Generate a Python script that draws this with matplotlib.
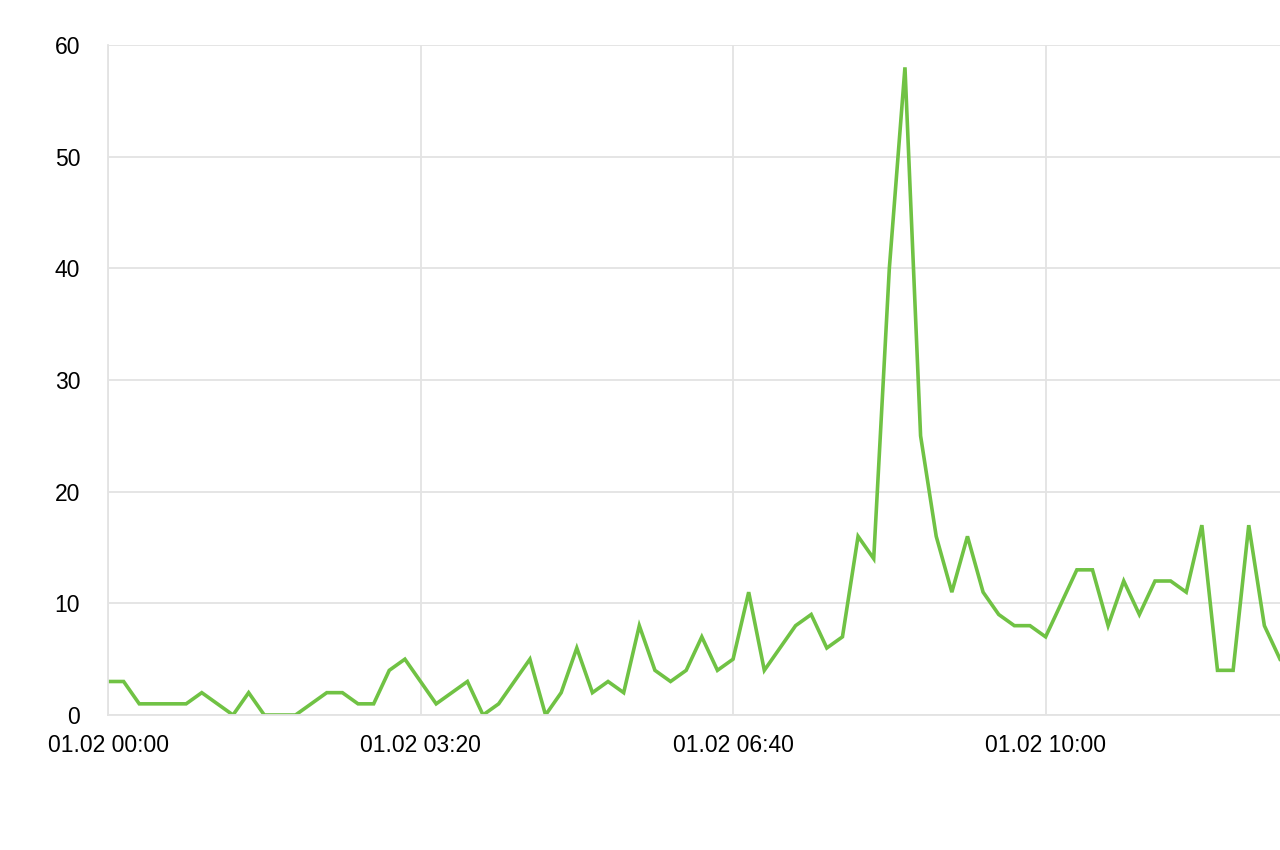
import matplotlib
matplotlib.use("Agg")
import matplotlib.pyplot as plt
import matplotlib.dates as mdates
import pandas as pd

# readings every 10 minutes starting 01.02 00:00
start_time = "2024-02-01 00:00"
step = "10min"
values = [
    3, 3, 1, 1, 1, 1, 2, 1, 0, 2,
    0, 0, 0, 1, 2, 2, 1, 1, 4, 5,
    3, 1, 2, 3, 0, 1, 3, 5, 0, 2,
    6, 2, 3, 2, 8, 4, 3, 4, 7, 4,
    5, 11, 4, 6, 8, 9, 6, 7, 16, 14,
    40, 58, 25, 16, 11, 16, 11, 9, 8, 8,
    7, 10, 13, 13, 8, 12, 9, 12, 12, 11,
    17, 4, 4, 17, 8, 5,
]
x_tick_minutes = [0, 200, 400, 600]
y_ticks = [0, 10, 20, 30, 40, 50, 60]

times = pd.date_range(start_time, periods=len(values), freq=step)
t0 = pd.Timestamp(start_time)

plt.rcParams["font.family"] = ["Liberation Sans", "DejaVu Sans"]

fig = plt.figure(figsize=(12.8, 8.5), dpi=100)
ax = fig.add_axes([108 / 1280, 1 - 715 / 850, 1 - 108 / 1280, (715 - 45) / 850])

ax.plot(times, values, color="#70c244", linewidth=2.6, solid_joinstyle="miter")

ax.set_xlim(times[0], times[-1])
ax.set_ylim(0, 60)
ax.set_yticks(y_ticks)
ax.set_xticks([t0 + pd.Timedelta(minutes=m) for m in x_tick_minutes])
ax.xaxis.set_major_formatter(mdates.DateFormatter("%d.%m %H:%M"))

ax.grid(True, color="#e3e3e3", linewidth=1.3)
ax.set_axisbelow(True)
for side in ("top", "right"):
    ax.spines[side].set_visible(False)
for side in ("left", "bottom"):
    ax.spines[side].set_color("#e3e3e3")
    ax.spines[side].set_linewidth(1.3)

ax.tick_params(axis="x", length=0, labelsize=16.5, pad=14, colors="black")
ax.tick_params(axis="y", length=0, labelsize=16.5, pad=20, colors="black")

fig.savefig("out.png", dpi=100)
